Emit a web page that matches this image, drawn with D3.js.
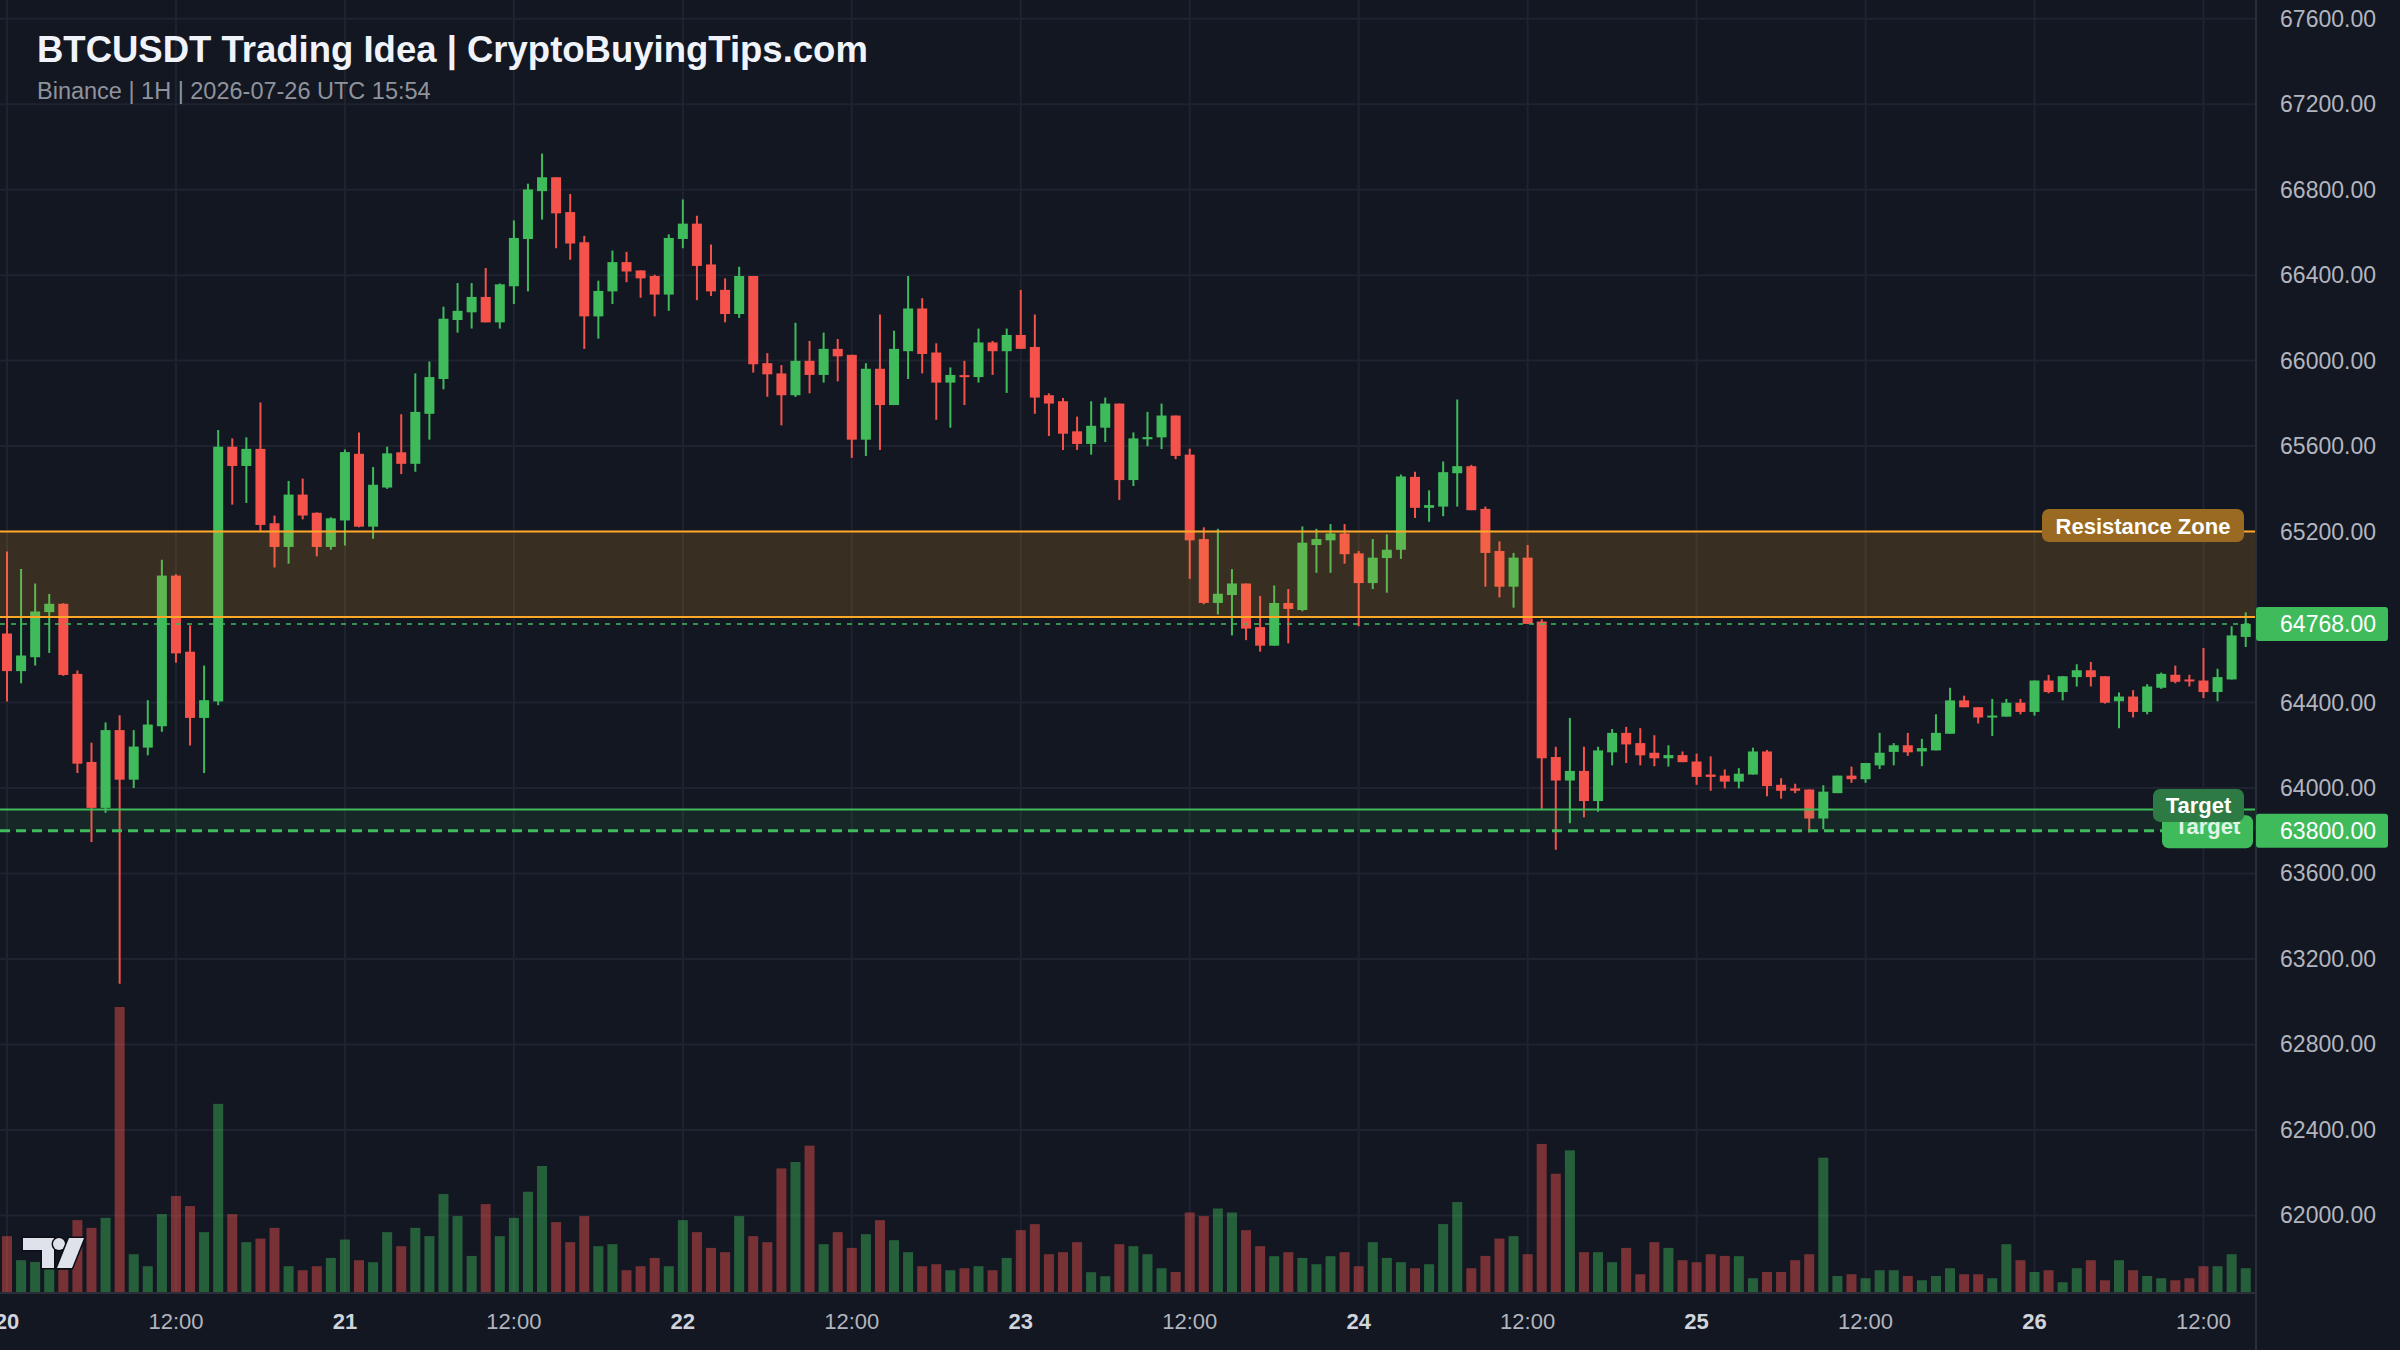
<!DOCTYPE html>
<html>
<head>
<meta charset="utf-8">
<script src="https://cdn.jsdelivr.net/npm/d3@7"></script>
<style>
    html, body { margin: 0; padding: 0; background: #131722; }
    svg { display: block; }
</style>
</head>
<body>
<div id="chart"></div>
<script>
// BTCUSDT 1H candles, first bar 2026-07-20 00:00 UTC, last bar 2026-07-26 15:00 UTC
var opens = [
    64723, 64547, 64612, 64823, 64862, 64534, 64122, 63907, 64271, 64039,
    64189, 64289, 64994, 64638, 64328, 64405, 65597, 65507, 65587, 65239,
    65128, 65373, 65288, 65128, 65252, 65564, 65223, 65406, 65571, 65517,
    65751, 65914, 66190, 66226, 66298, 66179, 66348, 66569, 66793, 66858,
    66695, 66554, 66207, 66324, 66461, 66422, 66396, 66309, 66569, 66641,
    66450, 66331, 66218, 66396, 65988, 65940, 65838, 65999, 65933, 66055,
    66027, 65630, 65962, 65792, 66044, 66244, 66038, 65897, 65932, 65923,
    66085, 66044, 66120, 66064, 65838, 65810, 65669, 65610, 65686, 65799,
    65441, 65632, 65641, 65743, 65560, 65165, 64866, 64903, 64957, 64753,
    64666, 64866, 64833, 65137, 65159, 65191, 65098, 64959, 65076, 65115,
    65456, 65311, 65317, 65473, 65506, 65306, 65109, 64942, 65078, 64779,
    64145, 64035, 64080, 63939, 64167, 64258, 64210, 64165, 64139, 64154,
    64124, 64063, 64058, 64030, 64063, 64171, 64015, 63998, 63993, 63857,
    63976, 64058, 64041, 64106, 64169, 64200, 64171, 64176, 64254, 64410,
    64378, 64330, 64334, 64399, 64356, 64503, 64449, 64519, 64551, 64523,
    64406, 64428, 64356, 64469, 64530, 64508, 64503, 64449, 64508, 64707
];
var highs = [
    65107, 65025, 64957, 64908, 64865, 64550, 64212, 64307, 64341, 64271,
    64411, 65068, 65000, 64761, 64573, 65675, 65636, 65641, 65804, 65275,
    65437, 65448, 65290, 65267, 65584, 65664, 65502, 65597, 65749, 65940,
    65996, 66252, 66363, 66363, 66433, 66361, 66656, 66828, 66969, 66858,
    66780, 66584, 66374, 66515, 66509, 66422, 66402, 66591, 66754, 66678,
    66543, 66385, 66439, 66396, 66035, 65979, 66177, 66092, 66131, 66101,
    66027, 65988, 66216, 66140, 66396, 66292, 66081, 65968, 65999, 66150,
    66092, 66150, 66331, 66216, 65847, 65825, 65738, 65810, 65827, 65799,
    65664, 65760, 65799, 65743, 65588, 65220, 65213, 65024, 64957, 64898,
    64948, 64931, 65224, 65213, 65235, 65235, 65109, 65165, 65187, 65467,
    65480, 65393, 65528, 65818, 65512, 65317, 65154, 65100, 65137, 64790,
    64193, 64328, 64193, 64193, 64276, 64286, 64280, 64247, 64200, 64171,
    64161, 64148, 64087, 64093, 64189, 64178, 64046, 64020, 63993, 64013,
    64058, 64100, 64117, 64258, 64210, 64258, 64230, 64345, 64469, 64432,
    64378, 64417, 64417, 64417, 64503, 64529, 64523, 64579, 64590, 64523,
    64447, 64458, 64486, 64540, 64573, 64530, 64655, 64558, 64757, 64822
];
var lows = [
    64405, 64490, 64573, 64632, 64525, 64070, 63747, 63884, 63084, 64000,
    64153, 64263, 64586, 64199, 64070, 64387, 65326, 65334, 65200, 65032,
    65050, 65257, 65084, 65115, 65135, 65220, 65166, 65400, 65469, 65480,
    65630, 65866, 66131, 66150, 66179, 66150, 66265, 66324, 66660, 66526,
    66472, 66055, 66103, 66265, 66367, 66294, 66207, 66233, 66526, 66283,
    66302, 66179, 66200, 65944, 65831, 65697, 65830, 65847, 65897, 65903,
    65545, 65554, 65582, 65792, 65914, 65940, 65723, 65686, 65792, 65897,
    65933, 65849, 66055, 65751, 65647, 65582, 65582, 65560, 65619, 65348,
    65413, 65599, 65586, 65539, 64979, 64860, 64812, 64714, 64692, 64638,
    64666, 64677, 64827, 65007, 65007, 65050, 64757, 64931, 64914, 65072,
    65263, 65246, 65272, 65317, 65300, 64942, 64892, 64844, 64768, 63900,
    63711, 63835, 63863, 63889, 64106, 64117, 64106, 64102, 64100, 64121,
    64015, 63987, 63998, 63998, 64063, 63961, 63950, 63976, 63792, 63807,
    63976, 64024, 64024, 64089, 64106, 64150, 64102, 64176, 64254, 64378,
    64302, 64243, 64334, 64345, 64339, 64443, 64410, 64475, 64475, 64395,
    64280, 64330, 64345, 64464, 64490, 64475, 64421, 64406, 64508, 64660
];
var closes = [
    64547, 64620, 64826, 64862, 64529, 64114, 63907, 64271, 64039, 64194,
    64297, 64994, 64630, 64328, 64411, 65597, 65507, 65587, 65231, 65128,
    65373, 65275, 65128, 65262, 65572, 65223, 65419, 65566, 65517, 65760,
    65923, 66196, 66233, 66298, 66179, 66357, 66574, 66801, 66858, 66689,
    66548, 66207, 66326, 66461, 66417, 66385, 66309, 66574, 66641, 66443,
    66324, 66218, 66396, 65983, 65936, 65838, 65999, 65933, 66055, 66020,
    65630, 65962, 65792, 66055, 66244, 66031, 65897, 65933, 65923, 66085,
    66044, 66120, 66055, 65827, 65799, 65658, 65610, 65695, 65799, 65441,
    65636, 65642, 65743, 65554, 65159, 64866, 64909, 64957, 64746, 64666,
    64866, 64838, 65148, 65165, 65191, 65094, 64959, 65078, 65115, 65458,
    65311, 65324, 65478, 65506, 65300, 65100, 64942, 65078, 64768, 64139,
    64035, 64080, 63939, 64176, 64258, 64204, 64153, 64139, 64154, 64121,
    64052, 64052, 64030, 64067, 64171, 64009, 63987, 63987, 63857, 63983,
    64058, 64041, 64117, 64165, 64200, 64167, 64187, 64258, 64410, 64378,
    64330, 64339, 64399, 64356, 64503, 64449, 64523, 64551, 64519, 64399,
    64428, 64356, 64475, 64534, 64497, 64499, 64449, 64519, 64714, 64768
];
var volumes = [
    557, 317, 300, 250, 220, 717, 640, 740, 2843, 377,
    257, 777, 957, 857, 597, 1877, 777, 497, 533, 640,
    257, 217, 257, 340, 523, 317, 297, 597, 457, 640,
    557, 977, 757, 360, 877, 557, 740, 1000, 1257, 697,
    497, 757, 457, 477, 217, 257, 340, 257, 717, 597,
    440, 397, 757, 557, 497, 1233, 1297, 1460, 477, 597,
    440, 577, 717, 517, 397, 257, 277, 217, 237, 257,
    217, 340, 617, 677, 377, 397, 497, 197, 157, 477,
    457, 377, 237, 200, 793, 757, 833, 793, 617, 457,
    357, 397, 340, 277, 357, 397, 257, 497, 340, 297,
    237, 277, 677, 897, 237, 360, 533, 557, 377, 1477,
    1180, 1413, 397, 397, 297, 440, 177, 497, 440, 317,
    297, 377, 360, 357, 137, 200, 200, 317, 377, 1340,
    160, 177, 137, 217, 217, 160, 117, 160, 237, 177,
    177, 137, 477, 317, 200, 217, 97, 237, 317, 117,
    317, 217, 160, 137, 117, 137, 257, 257, 377, 237
];

// Levels drawn on the chart
var resistanceZone = [64800, 65200];
var targetLevels = [63900, 63800];
var lastPrice = 64768;

var title = "BTCUSDT Trading Idea | CryptoBuyingTips.com";
var subtitle = "Binance | 1H | 2026-07-26 UTC 15:54";

var width = 2400;
var height = 1350;
var plotRight = 2256;      // price scale starts here
var volBase = 1292;        // bottom of the volume bars / top of the time scale
var barStep = 14.08;       // px per hour
var font = "'Liberation Sans', Arial, sans-serif";

var green = "#3fbb5b", red = "#f5524c", gridCol = "#1f2330";

var start = new Date(Date.UTC(2026, 6, 20, 0));
var times = d3.utcHour.range(start, d3.utcHour.offset(start, opens.length));
var data = times.map(function (t, i) {
    return { t: t, o: opens[i], h: highs[i], l: lows[i], c: closes[i], v: volumes[i], up: closes[i] >= opens[i] };
});

var x = d3.scaleUtc()
    .domain([start, times[times.length - 1]])
    .range([7, 7 + (times.length - 1) * barStep]);
var y = d3.scaleLinear().domain([62000, 67600]).range([1215.4, 18.7]);
var vol = d3.scaleLinear().domain([0, d3.max(volumes)]).range([volBase, volBase - 285]);

const svg = d3.select("#chart")
    .append("svg")
    .attr("width", width)
    .attr("height", height)
    .style("font-family", font);

svg.append("rect").attr("width", width).attr("height", height).attr("fill", "#131722");

// clip everything that lives inside the plot
svg.append("clipPath").attr("id", "plot")
    .append("rect").attr("x", 0).attr("y", 0).attr("width", plotRight).attr("height", volBase);
const plot = svg.append("g").attr("clip-path", "url(#plot)");

// Grid
var priceTicks = d3.range(62000, 67601, 400);
var timeTicks = d3.utcHour.every(12).range(start, d3.utcHour.offset(start, times.length + 1));
plot.append("g")
    .selectAll("line")
    .data(priceTicks)
    .join("line")
    .attr("x1", 0).attr("x2", plotRight)
    .attr("y1", d => y(d)).attr("y2", d => y(d))
    .attr("stroke", gridCol).attr("stroke-width", 2);
plot.append("g")
    .selectAll("line")
    .data(timeTicks)
    .join("line")
    .attr("x1", d => x(d)).attr("x2", d => x(d))
    .attr("y1", 0).attr("y2", volBase)
    .attr("stroke", gridCol).attr("stroke-width", 2);

// Volume bars
plot.append("g")
    .selectAll("rect")
    .data(data)
    .join("rect")
    .attr("x", d => x(d.t) - 5)
    .attr("width", 10)
    .attr("y", d => vol(d.v))
    .attr("height", d => volBase - vol(d.v))
    .attr("fill", d => d.up ? green : red)
    .attr("opacity", 0.45);

// Candles: wicks then bodies
const candles = plot.append("g");
candles.selectAll("line")
    .data(data)
    .join("line")
    .attr("x1", d => x(d.t)).attr("x2", d => x(d.t))
    .attr("y1", d => y(d.h)).attr("y2", d => y(d.l))
    .attr("stroke", d => d.up ? green : red)
    .attr("stroke-width", 2);
candles.selectAll("rect")
    .data(data)
    .join("rect")
    .attr("x", d => x(d.t) - 5)
    .attr("width", 10)
    .attr("y", d => y(Math.max(d.o, d.c)))
    .attr("height", d => Math.max(2, Math.abs(y(d.o) - y(d.c))))
    .attr("fill", d => d.up ? green : red);

// Resistance zone (drawn over the candles, semi transparent)
plot.append("rect")
    .attr("x", 0).attr("width", plotRight)
    .attr("y", y(resistanceZone[1]))
    .attr("height", y(resistanceZone[0]) - y(resistanceZone[1]))
    .attr("fill", "#f5a623").attr("opacity", 0.17);
plot.append("g")
    .selectAll("line")
    .data(resistanceZone)
    .join("line")
    .attr("x1", 0).attr("x2", plotRight)
    .attr("y1", d => y(d)).attr("y2", d => y(d))
    .attr("stroke", "#ffa726").attr("stroke-width", 2);

// Target band
plot.append("rect")
    .attr("x", 0).attr("width", plotRight)
    .attr("y", y(targetLevels[0]))
    .attr("height", y(targetLevels[1]) - y(targetLevels[0]))
    .attr("fill", green).attr("opacity", 0.1);
plot.append("line")
    .attr("x1", 0).attr("x2", plotRight)
    .attr("y1", y(targetLevels[0])).attr("y2", y(targetLevels[0]))
    .attr("stroke", green).attr("stroke-width", 2);
plot.append("line")
    .attr("x1", 0).attr("x2", plotRight)
    .attr("y1", y(targetLevels[1])).attr("y2", y(targetLevels[1]))
    .attr("stroke", green).attr("stroke-width", 3)
    .attr("stroke-dasharray", "10 6");

// Last price line
plot.append("line")
    .attr("x1", 0).attr("x2", plotRight)
    .attr("y1", y(lastPrice)).attr("y2", y(lastPrice))
    .attr("stroke", green).attr("stroke-width", 2).attr("opacity", 0.75)
    .attr("stroke-dasharray", "5 6");

// Labels on the lines
function tag(g, text, right, cy, w, fill, color, dy) {
    g.append("rect")
        .attr("x", right - w).attr("y", cy - 16.5)
        .attr("width", w).attr("height", 33).attr("rx", 7)
        .attr("fill", fill);
    g.append("text")
        .attr("x", right - w / 2).attr("y", cy + dy)
        .attr("text-anchor", "middle")
        .attr("font-size", 22).attr("font-weight", "bold")
        .attr("fill", color)
        .text(text);
}
const tags = svg.append("g");
tag(tags, "Target", plotRight - 3, y(targetLevels[1]) + 1, 91, green, "#e3f3e6", 2);
tag(tags, "Target", plotRight - 12, y(targetLevels[0]) - 4, 91, "#2e7a44", "#ffffff", 8);
tag(tags, "Resistance Zone", plotRight - 12, y(resistanceZone[1]) - 6, 202, "#9a6a22", "#ffffff", 8);

// Frame lines
svg.append("line")
    .attr("x1", plotRight).attr("x2", plotRight).attr("y1", 0).attr("y2", height)
    .attr("stroke", "#2a2e39").attr("stroke-width", 2);
svg.append("line")
    .attr("x1", 0).attr("x2", plotRight).attr("y1", volBase + 1).attr("y2", volBase + 1)
    .attr("stroke", "#2a2e39").attr("stroke-width", 2);

// Price boxes sit on the scale, so tick labels under them are not shown
var boxPrices = [lastPrice, targetLevels[1]];
var visibleTicks = priceTicks.filter(p => boxPrices.every(b => Math.abs(y(p) - y(b)) > 26));

svg.append("g")
    .selectAll("text")
    .data(visibleTicks)
    .join("text")
    .attr("x", 2376)
    .attr("y", d => y(d) + 8)
    .attr("text-anchor", "end")
    .attr("font-size", 23)
    .attr("fill", "#b2b5be")
    .text(d => d3.format(".2f")(d));

const boxes = svg.append("g")
    .selectAll("g")
    .data(boxPrices)
    .join("g");
boxes.append("rect")
    .attr("x", plotRight)
    .attr("y", d => y(d) - 17)
    .attr("width", 132).attr("height", 34).attr("rx", 3)
    .attr("fill", green);
boxes.append("text")
    .attr("x", 2376)
    .attr("y", d => y(d) + 8)
    .attr("text-anchor", "end")
    .attr("font-size", 23)
    .attr("fill", "#ffffff")
    .text(d => d3.format(".2f")(d));

// Time scale
svg.append("g")
    .selectAll("text")
    .data(timeTicks)
    .join("text")
    .attr("x", d => x(d))
    .attr("y", 1329)
    .attr("text-anchor", "middle")
    .attr("font-size", 22)
    .attr("font-weight", d => d.getUTCHours() === 0 ? "bold" : "normal")
    .attr("fill", d => d.getUTCHours() === 0 ? "#d1d4dc" : "#b2b5be")
    .text(d => d.getUTCHours() === 0 ? d3.utcFormat("%-d")(d) : d3.utcFormat("%H:%M")(d));

// Title
svg.append("text")
    .attr("x", 37).attr("y", 62)
    .attr("font-size", 36.5).attr("font-weight", "bold")
    .attr("fill", "#f0f3fa")
    .text(title);
svg.append("text")
    .attr("x", 37).attr("y", 99)
    .attr("font-size", 23.5)
    .attr("fill", "#8f939c")
    .text(subtitle);

// TradingView mark, bottom left
const logo = svg.append("g")
    .attr("fill", "#dfe2ea")
    .attr("stroke", "#0c0e14").attr("stroke-width", 3)
    .style("paint-order", "stroke");
logo.append("path").attr("d", "M23,1238 H54 V1268 H42 V1250 H23 Z");
logo.append("circle").attr("cx", 59).attr("cy", 1244).attr("r", 6);
logo.append("path").attr("d", "M69,1238 H84 L72,1268 H57 Z");
</script>
</body>
</html>
